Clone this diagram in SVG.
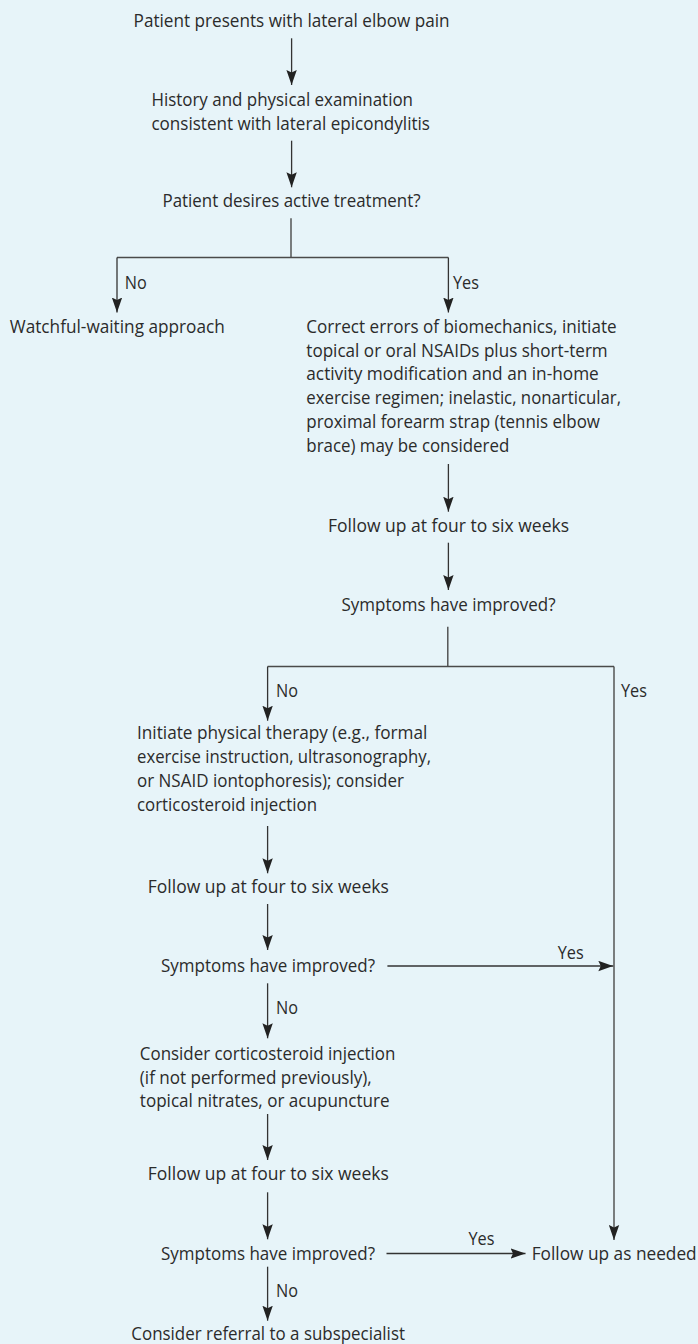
<svg xmlns="http://www.w3.org/2000/svg" width="698" height="1344" viewBox="0 0 698 1344">
<style>
text{font-family:"Open Sans","Liberation Sans",sans-serif;font-size:17.5px;fill:#2b2b2b}
.c line,.c path{stroke:#333;stroke-width:1.3;fill:none}
.c .b{stroke:#4a4a4a;stroke-width:1.4}
</style>
<defs>
<marker id="ah" markerUnits="userSpaceOnUse" markerWidth="15" markerHeight="11" viewBox="0 0 15 11" refX="15" refY="5.5" orient="auto">
<path d="M0,0.3 L15,5.5 L0,10.7 L2.5,5.5 z" fill="#222"/>
</marker>
</defs>
<rect width="698" height="1344" fill="#e7f4f9"/>
<g class="c" id="connectors">
<line x1="291.6" y1="38.3" x2="291.6" y2="85" marker-end="url(#ah)"/>
<line x1="291.6" y1="140.7" x2="291.6" y2="187.3" marker-end="url(#ah)"/>
<path class="b" d="M291,218.3 V257.5 M117,257.5 H448.4"/>
<line x1="117" y1="257.5" x2="117" y2="312.5" marker-end="url(#ah)"/>
<line x1="448.4" y1="257.5" x2="448.4" y2="312.5" marker-end="url(#ah)"/>
<line x1="448.4" y1="464" x2="448.4" y2="511.7" marker-end="url(#ah)"/>
<line x1="448.4" y1="542.7" x2="448.4" y2="590" marker-end="url(#ah)"/>
<path class="b" d="M447.8,626.7 V666.5 M267.6,666.5 H614"/>
<line x1="267.6" y1="666.5" x2="267.6" y2="720.7" marker-end="url(#ah)"/>
<line class="b" x1="614" y1="666.5" x2="614" y2="1240" marker-end="url(#ah)"/>
<line x1="267.6" y1="826" x2="267.6" y2="873.3" marker-end="url(#ah)"/>
<line x1="267.6" y1="904" x2="267.6" y2="950" marker-end="url(#ah)"/>
<line x1="387.4" y1="966" x2="613.3" y2="966" marker-end="url(#ah)"/>
<line x1="267.6" y1="983.3" x2="267.6" y2="1038.3" marker-end="url(#ah)"/>
<line x1="267.6" y1="1114" x2="267.6" y2="1160" marker-end="url(#ah)"/>
<line x1="267.6" y1="1192.3" x2="267.6" y2="1239.3" marker-end="url(#ah)"/>
<line x1="386.5" y1="1253.5" x2="525.5" y2="1253.5" marker-end="url(#ah)"/>
<line x1="267.6" y1="1266.7" x2="267.6" y2="1320.7" marker-end="url(#ah)"/>
</g>
<g id="n1"><text x="133.6" y="27" textLength="316" lengthAdjust="spacingAndGlyphs">Patient presents with lateral elbow pain</text></g>
<g id="n2">
<text x="151.4" y="106" textLength="261.6" lengthAdjust="spacingAndGlyphs">History and physical examination</text>
<text x="151.4" y="129.5" textLength="278.6" lengthAdjust="spacingAndGlyphs">consistent with lateral epicondylitis</text>
</g>
<g id="n3"><text x="162.5" y="207" textLength="258" lengthAdjust="spacingAndGlyphs">Patient desires active treatment?</text></g>
<g id="l1"><text x="124.7" y="289.3" textLength="22" lengthAdjust="spacingAndGlyphs">No</text><text x="453" y="289.3" textLength="26" lengthAdjust="spacingAndGlyphs">Yes</text></g>
<g id="n4"><text x="9.8" y="333" textLength="215" lengthAdjust="spacingAndGlyphs">Watchful-waiting approach</text></g>
<g id="n5">
<text x="306.3" y="332.7" textLength="310.3" lengthAdjust="spacingAndGlyphs">Correct errors of biomechanics, initiate</text>
<text x="306.3" y="356.7" textLength="301.4" lengthAdjust="spacingAndGlyphs">topical or oral NSAIDs plus short-term</text>
<text x="306.3" y="380.4" textLength="292.5" lengthAdjust="spacingAndGlyphs">activity modification and an in-home</text>
<text x="306.3" y="404.2" textLength="314.7" lengthAdjust="spacingAndGlyphs">exercise regimen; inelastic, nonarticular,</text>
<text x="306.3" y="428.1" textLength="293.7" lengthAdjust="spacingAndGlyphs">proximal forearm strap (tennis elbow</text>
<text x="306.3" y="452" textLength="203" lengthAdjust="spacingAndGlyphs">brace) may be considered</text>
</g>
<g id="n6"><text x="328" y="531.7" textLength="241" lengthAdjust="spacingAndGlyphs">Follow up at four to six weeks</text></g>
<g id="n7"><text x="341.5" y="610.5" textLength="214" lengthAdjust="spacingAndGlyphs">Symptoms have improved?</text></g>
<g id="l2"><text x="276" y="697" textLength="22" lengthAdjust="spacingAndGlyphs">No</text><text x="621" y="697" textLength="26" lengthAdjust="spacingAndGlyphs">Yes</text></g>
<g id="n8">
<text x="137" y="739.3" textLength="290.4" lengthAdjust="spacingAndGlyphs">Initiate physical therapy (e.g., formal</text>
<text x="137" y="763.3" textLength="294" lengthAdjust="spacingAndGlyphs">exercise instruction, ultrasonography,</text>
<text x="137" y="787.3" textLength="267" lengthAdjust="spacingAndGlyphs">or NSAID iontophoresis); consider</text>
<text x="137" y="811" textLength="180" lengthAdjust="spacingAndGlyphs">corticosteroid injection</text>
</g>
<g id="n9"><text x="147.8" y="892.7" textLength="241" lengthAdjust="spacingAndGlyphs">Follow up at four to six weeks</text></g>
<g id="n10"><text x="161" y="971.5" textLength="214" lengthAdjust="spacingAndGlyphs">Symptoms have improved?</text></g>
<g id="l3"><text x="557.7" y="959" textLength="26" lengthAdjust="spacingAndGlyphs">Yes</text><text x="276" y="1014" textLength="22" lengthAdjust="spacingAndGlyphs">No</text></g>
<g id="n11">
<text x="139.8" y="1060" textLength="255.6" lengthAdjust="spacingAndGlyphs">Consider corticosteroid injection</text>
<text x="139.8" y="1084" textLength="232" lengthAdjust="spacingAndGlyphs">(if not performed previously),</text>
<text x="139.8" y="1107.3" textLength="249.8" lengthAdjust="spacingAndGlyphs">topical nitrates, or acupuncture</text>
</g>
<g id="n12"><text x="147.8" y="1180" textLength="241" lengthAdjust="spacingAndGlyphs">Follow up at four to six weeks</text></g>
<g id="n13"><text x="161" y="1259.5" textLength="214" lengthAdjust="spacingAndGlyphs">Symptoms have improved?</text></g>
<g id="l4"><text x="468.4" y="1245" textLength="26" lengthAdjust="spacingAndGlyphs">Yes</text><text x="276" y="1297" textLength="22" lengthAdjust="spacingAndGlyphs">No</text></g>
<g id="n14"><text x="531.7" y="1260" textLength="165" lengthAdjust="spacingAndGlyphs">Follow up as needed</text></g>
<g id="n15"><text x="131.3" y="1340" textLength="273.7" lengthAdjust="spacingAndGlyphs">Consider referral to a subspecialist</text></g>
</svg>
